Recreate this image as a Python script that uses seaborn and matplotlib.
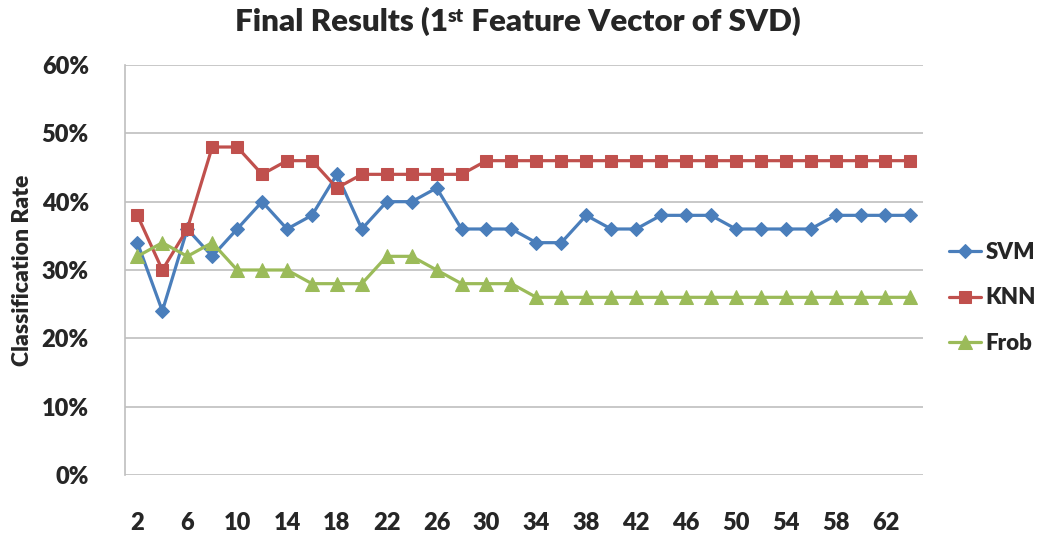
import matplotlib
matplotlib.use("Agg")
import matplotlib.pyplot as plt
import seaborn as sns
import pandas as pd

# number of features (x categories)
features = [2, 4, 6, 8, 10, 12, 14, 16, 18, 20, 22, 24, 26, 28, 30, 32,
            34, 36, 38, 40, 42, 44, 46, 48, 50, 52, 54, 56, 58, 60, 62, 64]

# classification rates (%)
svm = [34, 24, 36, 32, 36, 40, 36, 38, 44, 36, 40, 40, 42, 36, 36, 36,
       34, 34, 38, 36, 36, 38, 38, 38, 36, 36, 36, 36, 38, 38, 38, 38]
knn = [38, 30, 36, 48, 48, 44, 46, 46, 42, 44, 44, 44, 44, 44, 46, 46,
       46, 46, 46, 46, 46, 46, 46, 46, 46, 46, 46, 46, 46, 46, 46, 46]
frob = [32, 34, 32, 34, 30, 30, 30, 28, 28, 28, 32, 32, 30, 28, 28, 28,
        26, 26, 26, 26, 26, 26, 26, 26, 26, 26, 26, 26, 26, 26, 26, 26]

x_ticks = [2, 6, 10, 14, 18, 22, 26, 30, 34, 38, 42, 46, 50, 54, 58, 62]
y_ticks = [0, 10, 20, 30, 40, 50, 60]

df = pd.DataFrame({'features': features, 'SVM': svm, 'KNN': knn, 'Frob': frob})

sns.set_style("white")
plt.rcParams['font.family'] = ['Lato', 'DejaVu Sans']
W = 'heavy'

fig = plt.figure(figsize=(10.43, 5.4), dpi=100)
ax = fig.add_axes([0.1198, 0.1204, 0.765, 0.7592])

styles = {
    'SVM': ('#4A7EBB', 'D', 7.5),
    'KNN': ('#C0504D', 's', 9),
    'Frob': ('#9BBB59', '^', 9.5),
}
for name, (col, mk, ms) in styles.items():
    sns.lineplot(data=df, x='features', y=name, ax=ax, color=col, marker=mk,
                 markersize=ms, markeredgecolor=col, linewidth=2.3, label=name)

ax.set_xlim(1, 65)
ax.set_ylim(0, 60)
ax.set_xticks(x_ticks)
ax.set_xticklabels([str(v) for v in x_ticks], fontsize=17, fontweight=W)
ax.set_yticks(y_ticks)
ax.set_yticklabels([f'{v}%' for v in y_ticks], fontsize=17, fontweight=W)
ax.tick_params(axis='x', length=0, pad=27)
ax.tick_params(axis='y', length=0, pad=26)
ax.grid(axis='y', color='#BFBFBF', linewidth=1.2)
ax.set_axisbelow(True)
for s in ['top', 'right', 'bottom']:
    ax.spines[s].set_visible(False)
ax.spines['left'].set_color('#BFBFBF')
ax.spines['left'].set_linewidth(1.2)

ax.set_xlabel('')
ax.set_ylabel('Classification Rate', fontsize=16.5, fontweight=W, labelpad=6)

leg = ax.legend(loc='center left', bbox_to_anchor=(1.013, 0.432), frameon=False,
                fontsize=16, handlelength=1.45, labelspacing=1.1, handletextpad=0.2,
                borderaxespad=0.3)
for t in leg.get_texts():
    t.set_fontweight(W)

# title with superscript "st"
renderer = fig.canvas.get_renderer()
parts = [('Final Results (1', 22.5, 0), ('st', 14, 9), (' Feature Vector of SVD)', 22.5, 0)]
texts = []
for s, fs, dy in parts:
    texts.append(fig.text(0, 0, s, fontsize=fs, fontweight=W))
widths = [t.get_window_extent(renderer).width for t in texts]
x0 = 518 - sum(widths) / 2
base = 540 - 31
for t, (s, fs, dy), w in zip(texts, parts, widths):
    t.set_position((x0 / 1043, (base + dy) / 540))
    x0 += w

fig.savefig('out.png', dpi=100)
